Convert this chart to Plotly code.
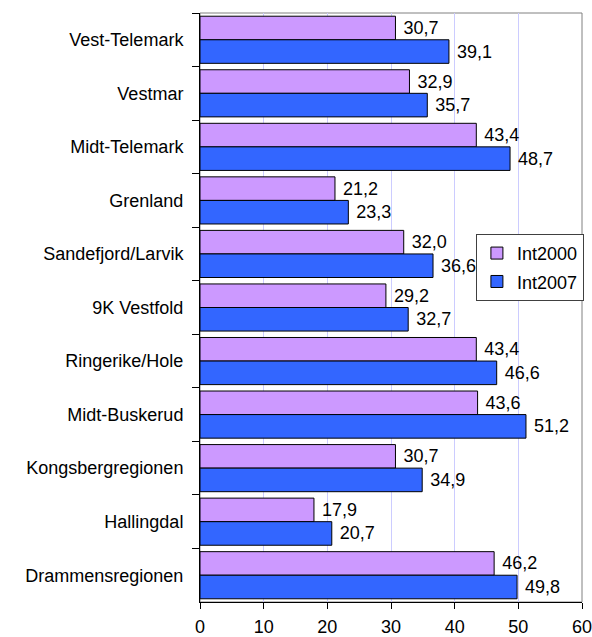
import plotly.graph_objects as go

categories = ["Vest-Telemark", "Vestmar", "Midt-Telemark", "Grenland",
              "Sandefjord/Larvik", "9K Vestfold", "Ringerike/Hole",
              "Midt-Buskerud", "Kongsbergregionen", "Hallingdal",
              "Drammensregionen"]
int2000 = [30.7, 32.9, 43.4, 21.2, 32.0, 29.2, 43.4, 43.6, 30.7, 17.9, 46.2]
int2007 = [39.1, 35.7, 48.7, 23.3, 36.6, 32.7, 46.6, 51.2, 34.9, 20.7, 49.8]
x_ticks = [0, 10, 20, 30, 40, 50, 60]

FONT = "Liberation Sans, Arial, sans-serif"


def fmt(v):
    return " " + f"{v:.1f}".replace(".", ",")


fig = go.Figure()
fig.add_trace(go.Bar(
    name="Int2000", y=categories, x=int2000, orientation="h",
    marker=dict(color="#CC99FF", line=dict(color="#000000", width=1)),
    text=[fmt(v) for v in int2000], textposition="outside",
    textfont=dict(size=18, color="#000000", family=FONT),
    cliponaxis=False, legendgroup="a",
))
fig.add_trace(go.Bar(
    name="Int2007", y=categories, x=int2007, orientation="h",
    marker=dict(color="#3366FF", line=dict(color="#000000", width=1)),
    text=[fmt(v) for v in int2007], textposition="outside",
    textfont=dict(size=18, color="#000000", family=FONT),
    cliponaxis=False, legendgroup="b",
))

fig.update_layout(
    width=592, height=637,
    margin=dict(l=200, r=10, t=13, b=35, autoexpand=False),
    paper_bgcolor="white", plot_bgcolor="white",
    font=dict(family=FONT, size=18, color="#000000"),
    barmode="group", bargap=0.12, bargroupgap=0,
    showlegend=True,
    legend=dict(x=1.005, xanchor="right", y=0.625, yanchor="top",
                bgcolor="white", bordercolor="#404040", borderwidth=1,
                font=dict(size=18, family=FONT), tracegroupgap=2,
                itemwidth=30),
    xaxis=dict(range=[0, 60], tickvals=x_ticks, ticktext=[str(t) for t in x_ticks],
               showgrid=True, gridcolor="#CCCCFF", gridwidth=1,
               zeroline=False, showline=True, linecolor="#000000", linewidth=1,
               ticks="outside", ticklen=6, tickcolor="#000000",
               tickfont=dict(size=18), ticklabelstandoff=2,
               ticklabeloverflow="allow"),
    yaxis=dict(type="category", autorange="reversed", showgrid=False,
               showline=True, linecolor="#000000", linewidth=1,
               ticks="outside", ticklen=7, tickcolor="#000000",
               tickson="boundaries", tickfont=dict(size=18),
               ticklabelstandoff=12),
    shapes=[dict(type="rect", xref="paper", yref="paper", x0=0, x1=1, y0=0, y1=1,
                 line=dict(color="#808080", width=1), layer="below")],
)

fig.write_html("out.html", config={"displayModeBar": False},
               post_script="document.body.style.margin='0';document.body.style.padding='0';document.body.style.overflow='hidden';")
